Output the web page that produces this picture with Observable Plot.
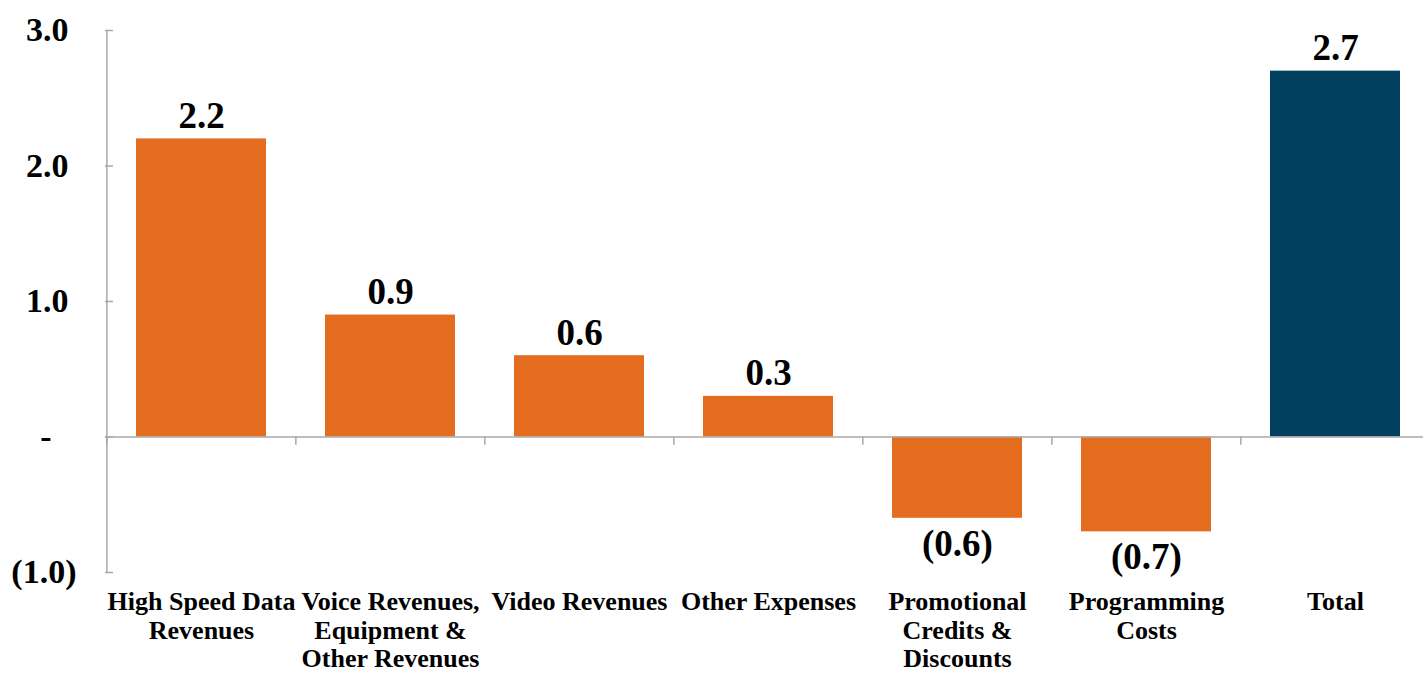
<!DOCTYPE html>
<html>
<head>
<meta charset="utf-8">
<script src="https://cdn.jsdelivr.net/npm/d3@7"></script>
<script src="https://cdn.jsdelivr.net/npm/@observablehq/plot@0.6"></script>
<style>
  html, body { margin: 0; padding: 0; background: #fff; }
  #chart svg { display: block; }
</style>
</head>
<body>
<div id="chart"></div>
<script>
const categories = ["HSD", "Voice", "Video", "Other", "Promo", "Programming", "Total"];
const categoryLabels = [
  "High Speed Data\nRevenues",
  "Voice Revenues,\nEquipment &\nOther Revenues",
  "Video Revenues",
  "Other Expenses",
  "Promotional\nCredits &\nDiscounts",
  "Programming\nCosts",
  "Total"
];
const values = [2.2, 0.9, 0.6, 0.3, -0.6, -0.7, 2.7];
const yTicks = [-1, 0, 1, 2, 3];

const ORANGE = "#E46C1E";
const NAVY = "#02405F";
const GRAY = "#A8A8A8";
const FONT = "'Liberation Serif', 'Times New Roman', serif";

const data = categories.map((c, i) => ({category: c, label: categoryLabels[i], value: values[i]}));
const labelOf = new Map(categories.map((c, i) => [c, categoryLabels[i]]));

const W = 1423, H = 673;
const xRange = [105, 1430];
const step = (xRange[1] - xRange[0]) / categories.length;
const pInner = 0.313;

const fmtVal = v => v < 0 ? `(${Math.abs(v).toFixed(1)})` : v.toFixed(1);
const fmtTick = v => v === 0 ? "-" : fmtVal(v);
const tickLabelStyle = {tickSize: 0, tickFormat: fmtTick, fontSize: 34, fontWeight: "bold", fill: "#000", label: null};

const chart = Plot.plot({
  width: W,
  height: H,
  marginLeft: 105,
  marginRight: 0,
  marginTop: 30,
  marginBottom: 101,
  style: {fontFamily: FONT, background: "#fff", color: "#000"},
  x: {domain: categories, range: xRange, paddingInner: pInner, paddingOuter: pInner / 2, label: null},
  y: {domain: [-1, 3], label: null},
  marks: [
    Plot.barY(data, {
      x: "category", y: "value",
      fill: d => d.category === "Total" ? NAVY : ORANGE
    }),
    // y axis line
    Plot.ruleX([categories[0]], {x: d => d, y1: -1, y2: 3, dx: -step / 2, stroke: GRAY, strokeWidth: 1.5}),
    // zero baseline
    Plot.ruleY([0], {stroke: GRAY, strokeWidth: 1.5}),
    // category separator ticks below baseline
    Plot.ruleX(categories, {x: d => d, y1: 0, y2: -0.06, dx: -step / 2, stroke: GRAY, strokeWidth: 1.5}),
    // y ticks (inside)
    Plot.axisY({ticks: yTicks, tickSize: -8, text: null, stroke: GRAY, strokeWidth: 1.5, strokeOpacity: 1}),
    // y tick labels (accounting-style alignment)
    Plot.axisY({...tickLabelStyle, ticks: yTicks.filter(t => t > 0), tickPadding: 37}),
    Plot.axisY({...tickLabelStyle, ticks: yTicks.filter(t => t === 0), tickPadding: 54}),
    Plot.axisY({...tickLabelStyle, ticks: yTicks.filter(t => t < 0), tickPadding: 29}),
    // x category labels
    Plot.axisX({
      tickSize: 0, tickPadding: 0, dy: 590 - (H - 101), tickFormat: c => labelOf.get(c),
      fontSize: 26, fontWeight: "bold", fill: "#000", lineHeight: 1.08, label: null,
      lineAnchor: "top"
    }),
    // value labels
    Plot.text(data.filter(d => d.value >= 0), {
      x: "category", y: "value", text: d => fmtVal(d.value),
      lineAnchor: "bottom", dy: -11, fontSize: 37, fontWeight: "bold", fill: "#000"
    }),
    Plot.text(data.filter(d => d.value < 0), {
      x: "category", y: "value", text: d => fmtVal(d.value),
      lineAnchor: "top", dy: 11, fontSize: 37, fontWeight: "bold", fill: "#000"
    })
  ]
});
document.getElementById("chart").appendChild(chart);
</script>
</body>
</html>
